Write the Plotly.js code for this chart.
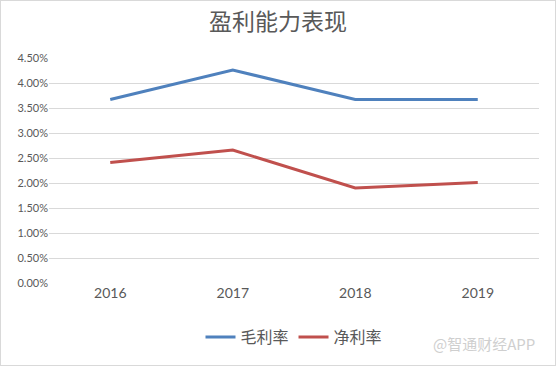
<!DOCTYPE html>
<html>
<head>
<meta charset="utf-8">
<script src="https://cdn.plot.ly/plotly-3.0.1.min.js"></script>
<style>
html,body{margin:0;padding:0;background:#fff;}
#wrap{position:relative;width:556px;height:366px;}
#chart{position:absolute;left:0;top:0;width:556px;height:366px;}
#frame{position:absolute;left:0;top:0;width:554px;height:364px;border:1px solid #d9d9d9;pointer-events:none;}
</style>
</head>
<body>
<div id="wrap"><div id="chart"></div><div id="frame"></div></div>
<script>
const years = ['2016', '2017', '2018', '2019'];
const grossMargin = [0.0367, 0.0426, 0.0367, 0.0367];
const netMargin = [0.0241, 0.0266, 0.0190, 0.0201];
const seriesNames = ['毛利率', '净利率'];
const chartTitle = '盈利能力表现';
const watermark = '@智通财经APP';

const cjk = '"Noto Sans CJK SC", "Noto Sans", sans-serif';
const latin = 'Lato, "Liberation Sans", sans-serif';

const traces = [
  {x: years, y: grossMargin, name: seriesNames[0], type: 'scatter', mode: 'lines',
   line: {color: '#4F81BD', width: 3}},
  {x: years, y: netMargin, name: seriesNames[1], type: 'scatter', mode: 'lines',
   line: {color: '#C0504D', width: 3}}
];

const layout = {
  width: 556, height: 366,
  margin: {l: 49, r: 17, t: 58, b: 80},
  paper_bgcolor: '#ffffff', plot_bgcolor: '#ffffff',
  title: {text: chartTitle, x: 0.5, xanchor: 'center', y: 0.94, yanchor: 'middle',
          font: {family: cjk, size: 23, color: '#595959'}},
  xaxis: {type: 'category', range: [-0.5, 3.5], showgrid: false, zeroline: false,
          showline: false, ticks: '', tickfont: {family: latin, size: 14, color: '#595959'}},
  yaxis: {range: [0, 0.045], dtick: 0.005, tick0: 0, tickformat: '.2%',
          showgrid: true, gridcolor: '#d9d9d9', gridwidth: 1, zeroline: false,
          showline: false, ticks: '', ticklen: 0,
          tickfont: {family: latin, size: 11, color: '#595959'}},
  showlegend: true,
  legend: {orientation: 'h', x: 0.5, xanchor: 'center', y: -0.165, yanchor: 'top',
           font: {family: cjk, size: 16, color: '#595959'}, itemwidth: 30, tracegroupgap: 0},
  annotations: [{text: watermark, xref: 'paper', yref: 'paper', x: 0.995, y: -0.27,
                 xanchor: 'right', yanchor: 'middle', showarrow: false,
                 font: {family: cjk, size: 15, color: '#cfcfcf'}}]
};

Plotly.newPlot('chart', traces, layout, {displayModeBar: false, staticPlot: true});
</script>
</body>
</html>
